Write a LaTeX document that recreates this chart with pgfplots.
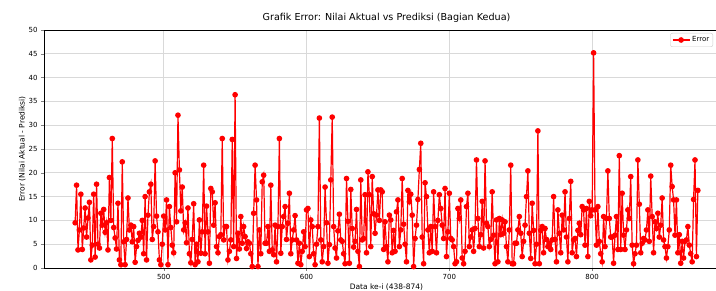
\documentclass[border=0pt]{standalone}
\usepackage{pgfplots}
\pgfplotsset{compat=1.18}
\usepackage{fontspec}
\setmainfont{DejaVu Sans}
\begin{document}
\begin{tikzpicture}
\useasboundingbox (0,0) rectangle (716pt,291pt);
\clip (0,0) rectangle (716pt,291pt);
\begin{axis}[
  at={(44pt,23pt)}, anchor=south west,
  scale only axis, width=685pt, height=238pt,
  xmin=416.2, xmax=895.8, ymin=0, ymax=50,
  xtick={500,600,700,800}, ytick={0,5,...,50},
  grid=major, grid style={gray!30, line width=0.6pt},
  tick align=outside, tick pos=left,
  major tick length=3pt,
  axis line style={black, line width=0.6pt},
  /pgf/number format/assume math mode=true,
  ticklabel style={font=\fontsize{7}{8}\selectfont},
  title={Grafik Error: Nilai Aktual vs Prediksi (Bagian Kedua)},
  title style={font=\fontsize{9.6}{11}\selectfont, yshift=-2pt},
  xlabel={Data ke-i (438-874)},
  ylabel={Error (Nilai Aktual - Prediksi)},
  label style={font=\fontsize{7.5}{8.5}\selectfont},
  xlabel style={yshift=3pt},
  ylabel style={yshift=-4pt},
  legend style={at={(1,1)}, anchor=north east, xshift=-16pt, yshift=-3pt,
    draw=gray!40, rounded corners=2pt, font=\fontsize{7}{8}\selectfont, inner sep=1.5pt},
]
\addplot[red, line width=1.2pt, mark=*, mark size=2.2pt, mark options={fill=red, draw=red}] coordinates {
(438,9.5) (439,17.4) (440,3.8) (441,8.0) (442,15.5) (443,3.9) (444,8.4) (445,12.6) (446,6.5) (447,10.5)
(448,13.8) (449,1.7) (450,4.8) (451,15.5) (452,2.3) (453,17.6) (454,5.0) (455,4.2) (456,11.5) (457,9.0)
(458,12.3) (459,7.5) (460,9.5) (461,3.8) (462,19.0) (463,10.0) (464,27.2) (465,8.5) (466,6.3) (467,4.0)
(468,13.6) (469,1.7) (470,0.7) (471,22.3) (472,5.5) (473,0.7) (474,6.0) (475,14.7) (476,8.0) (477,9.0)
(478,5.5) (479,8.7) (480,1.2) (481,4.5) (482,5.8) (483,7.3) (484,6.5) (485,10.0) (486,3.0) (487,15.0)
(488,1.7) (489,11.1) (490,16.0) (491,17.6) (492,6.0) (493,8.7) (494,22.5) (495,10.9) (496,7.6) (497,1.7)
(498,0.7) (499,5.0) (500,10.9) (501,8.0) (502,14.3) (503,0.7) (504,12.9) (505,8.5) (506,4.8) (507,3.2)
(508,20.0) (509,9.7) (510,32.1) (511,20.6) (512,12.0) (513,17.0) (514,8.0) (515,9.5) (516,5.3) (517,12.6)
(518,3.0) (519,1.1) (520,6.0) (521,13.5) (522,0.7) (523,5.0) (524,1.3)
(525,10.1) (526,3.1) (527,7.6) (528,21.6) (529,3.0) (530,13.0) (531,7.6) (532,1.0) (533,16.7) (534,16.0)
(535,9.0) (536,13.7) (537,4.5) (538,3.2) (539,6.6) (540,7.0) (541,27.2) (542,5.9) (543,8.7) (544,8.7)
(545,1.7) (546,3.5) (547,5.9) (548,27.0) (549,4.5) (550,36.4) (551,2.0) (552,7.3) (553,4.0) (554,10.8)
(555,5.2) (556,8.7) (557,6.6) (558,4.1) (559,5.5) (560,5.2) (561,3.0) (562,0.3) (563,11.5) (564,21.6)
(565,14.3) (566,0.3) (567,8.0) (568,3.0) (569,18.1) (570,19.5) (571,5.2) (572,5.2) (573,8.7) (574,3.5)
(575,17.4) (576,3.8) (577,2.8) (578,9.0) (579,1.3) (580,8.7) (581,27.2) (582,3.1) (583,8.7) (584,10.8)
(585,12.9) (586,6.0) (587,9.4) (588,15.7) (589,3.0) (590,5.9) (591,8.0) (592,11.0) (593,5.9) (594,1.0)
(595,5.2) (596,0.7) (597,3.5) (598,7.6) (599,4.5) (600,12.2) (601,12.5) (602,2.4) (603,10.1) (604,8.7)
(605,3.0) (606,0.7) (607,5.0) (608,8.7) (609,31.5)
(610,5.9) (611,1.3) (612,4.5) (613,17.0) (614,9.5) (615,1.0) (616,4.9) (617,18.5) (618,31.7) (619,8.7)
(620,4.2) (621,2.1) (622,7.8) (623,11.3) (624,5.9) (625,5.6) (626,3.0) (627,0.9) (628,18.8) (629,9.8)
(630,1.0) (631,16.5) (632,8.3) (633,4.4) (634,5.6) (635,12.3) (636,3.5) (637,0.3) (638,18.5) (639,5.9)
(640,6.2) (641,15.4) (642,3.2) (643,20.2) (644,15.4) (645,4.5) (646,19.2) (647,11.4) (648,7.3) (649,11.1)
(650,16.4) (651,10.0) (652,16.4) (653,16.0) (654,3.9) (655,9.7) (656,4.5) (657,1.3) (658,11.1) (659,10.1)
(660,3.2) (661,7.9) (662,3.5) (663,11.8) (664,14.3) (665,4.5) (666,8.0) (667,18.8) (668,9.2) (669,5.0)
(670,1.3) (671,16.3) (672,13.9) (673,15.5) (674,11.1) (675,0.3) (676,6.2) (677,9.0) (678,14.4) (679,20.7)
(680,26.2) (681,6.5) (682,0.9) (683,17.9) (684,15.0) (685,8.0) (686,3.2) (687,8.7) (688,3.5) (689,16.0)
(690,8.7) (691,3.2) (692,10.0) (693,15.4) (694,12.5) (695,9.0) (696,6.2) (697,16.7)
(698,2.4) (699,7.6) (700,15.7) (701,6.2) (702,5.9) (703,4.5) (704,0.9) (705,1.3) (706,12.5) (707,10.4)
(708,14.3) (709,2.1) (710,0.9) (711,3.5) (712,12.9) (713,15.7) (714,4.5) (715,6.5) (716,8.0) (717,3.5)
(718,8.3) (719,22.7) (720,10.4) (721,4.5) (722,7.0) (723,14.0) (724,4.2) (725,22.5) (726,9.4) (727,8.7)
(728,4.5) (729,6.0) (730,16.0) (731,6.9) (732,0.9) (733,10.1) (734,1.3) (735,10.4) (736,7.0) (737,10.1)
(738,7.3) (739,9.7) (740,4.5) (741,1.3) (742,8.0) (743,21.6) (744,0.9) (745,0.9) (746,5.2) (747,5.2)
(748,8.0) (749,10.8) (750,7.3) (751,2.4) (752,5.6) (753,9.0) (754,15.0) (755,20.4) (756,7.3) (757,2.0)
(758,13.6) (759,7.9) (760,0.9) (761,5.0) (762,28.8) (763,0.9) (764,7.9) (765,8.7) (766,3.2) (767,8.3)
(768,6.0) (769,4.5) (770,5.2) (771,3.9) (772,5.9) (773,15.0) (774,6.0) (775,1.3) (776,12.2) (777,7.3)
(778,3.2) (779,11.1) (780,8.0) (781,16.0) (782,6.5) (783,1.3) (784,10.4) (785,18.2) (786,3.2)
(787,5.9) (788,6.2) (789,2.4) (790,7.9) (791,9.4) (792,7.0) (793,12.9) (794,12.2) (795,4.8) (796,12.5)
(797,2.4) (798,14.0) (799,11.0) (800,12.2) (801,45.2) (802,12.2) (803,4.8) (804,12.9) (805,5.6) (806,3.0)
(807,1.3) (808,10.8) (809,4.5) (810,10.4) (811,20.4) (812,10.4) (813,6.5) (814,6.5) (815,1.0) (816,6.9)
(817,10.8) (818,3.9) (819,23.6) (820,3.9) (821,15.7) (822,6.9) (823,3.9) (824,8.0) (825,12.2) (826,10.4)
(827,19.2) (828,4.8) (829,0.9) (830,3.0) (831,4.8) (832,22.7) (833,13.4) (834,3.2) (835,5.2) (836,6.2)
(837,5.9) (838,8.0) (839,12.2) (840,5.6) (841,19.3) (842,10.8) (843,3.2) (844,9.7) (845,8.3) (846,11.5)
(847,6.5) (848,9.0) (849,14.7) (850,5.9) (851,4.5) (852,2.1) (853,4.5) (854,8.0) (855,21.6) (856,17.1)
(857,14.3) (858,6.9) (859,14.3) (860,3.2) (861,7.0) (862,1.0) (863,5.6) (864,2.1) (865,5.6) (866,5.9)
(867,8.7) (868,4.8) (869,3.0) (870,1.3) (871,14.4) (872,22.7) (873,2.4) (874,16.3)
};
\addlegendentry{Error}
\end{axis}
\end{tikzpicture}
\end{document}
